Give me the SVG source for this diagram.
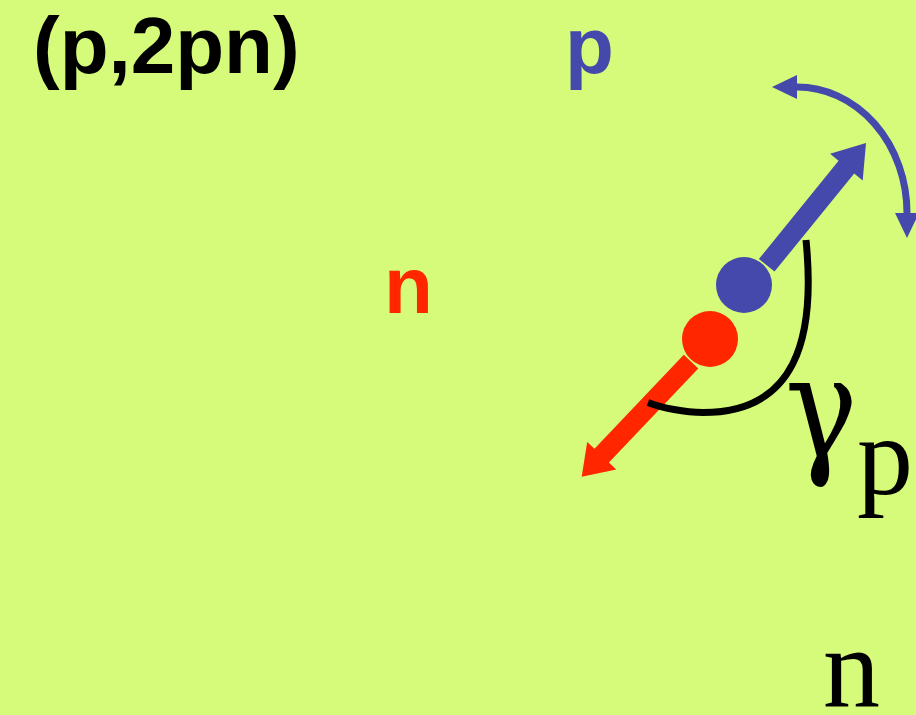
<svg xmlns="http://www.w3.org/2000/svg" width="916" height="715" viewBox="0 0 916 715">
<style>
.sans{font-family:"Liberation Sans",Arial,sans-serif;font-weight:bold;font-size:80px}
.serif{font-family:"Liberation Serif","Times New Roman",serif}
.blue{fill:#4449AB}
.red{fill:#FF2600}
</style>
<defs>
<marker id="bhead" markerUnits="userSpaceOnUse" markerWidth="26" markerHeight="26" refX="0" refY="12" orient="auto-start-reverse" viewBox="0 0 26 26">
<path d="M0,0 L25,12 L0,24 z" fill="#4449AB"/>
</marker>
</defs>
<rect width="916" height="715" fill="#D6FB7A"/>
<g id="title"><text class="sans" x="33" y="73">(p,2pn)</text></g>
<g id="label-p"><text class="sans blue" x="565" y="73">p</text></g>
<g id="label-n"><text class="sans red" x="384" y="313">n</text></g>
<g id="proton">
<polygon class="blue" points="758.9,259 838.6,160.8 830.1,153.8 866,143 862.7,180.4 854.2,173.4 774.5,271.6"/>
<circle class="blue" cx="744" cy="285" r="28"/>
</g>
<g id="neutron">
<polygon class="red" points="683.8,354.8 594.5,448.8 587.2,441.9 581.7,476.7 616.2,469.5 608.9,462.6 698.3,368.6"/>
<circle class="red" cx="710" cy="339" r="28"/>
</g>
<g id="connectors">
<path d="M797,87 A110 126 0 0 1 907,213" fill="none" stroke="#4449AB" stroke-width="7" marker-start="url(#bhead)" marker-end="url(#bhead)"/>
<path d="M806,240 C816,340 795,412.5 703,412.5 C685,412.5 662,408 648,402.5" fill="none" stroke="#000" stroke-width="7"/>
</g>
<g id="gamma-label"><text font-family="'DejaVu Serif',serif" transform="translate(785,457) scale(0.85,1)" x="0" y="0" font-size="143">γ</text><text class="serif" x="857" y="494" font-size="112">p</text></g>
<g id="label-n-bottom"><text class="serif" x="823" y="706" font-size="114">n</text></g>
</svg>
